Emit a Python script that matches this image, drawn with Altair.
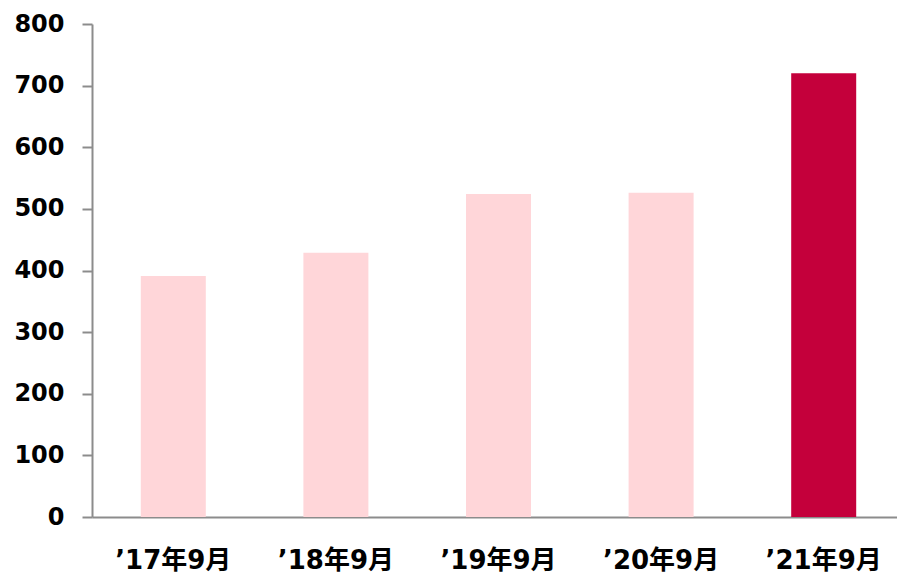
import altair as alt
import pandas as pd

categories = ["’17年9月", "’18年9月", "’19年9月", "’20年9月", "’21年9月"]
values = [391, 429, 524, 526, 720]
highlight = ["no", "no", "no", "no", "yes"]

df = pd.DataFrame({"cat": categories, "value": values, "hl": highlight})

font = "DejaVu Sans, Noto Sans CJK JP, sans-serif"

chart = alt.Chart(df).mark_bar(size=65).encode(
    x=alt.X("cat:N", sort=categories, title=None,
            scale=alt.Scale(paddingInner=0, paddingOuter=0, range=[0, 813]),
            axis=alt.Axis(labelAngle=0, labelFontSize=26, labelFontWeight="bold",
                          labelColor="#000000", labelFont=font, labelPadding=30,
                          labelBaseline="top",
                          ticks=False, domainColor="#8c8c8c", domainWidth=2)),
    y=alt.Y("value:Q", title=None,
            scale=alt.Scale(domain=[0, 800], nice=False),
            axis=alt.Axis(values=[0, 100, 200, 300, 400, 500, 600, 700, 800],
                          labelFontSize=24, labelFontWeight="bold", labelColor="#000000",
                          labelFont=font, labelPadding=18, tickSize=10,
                          tickColor="#8c8c8c", tickWidth=2,
                          domainColor="#8c8c8c", domainWidth=2, grid=False)),
    color=alt.Color("hl:N", scale=alt.Scale(domain=["no", "yes"], range=["#FFD6D9", "#C4003B"]),
                    legend=None),
).properties(
    width=805, height=493,
    autosize=alt.AutoSizeParams(type="none"),
    padding={"left": 84, "top": 16, "right": 0, "bottom": 56},
).configure_view(stroke=None)

chart.save("out.html", embed_options={"renderer": "svg", "actions": False})
